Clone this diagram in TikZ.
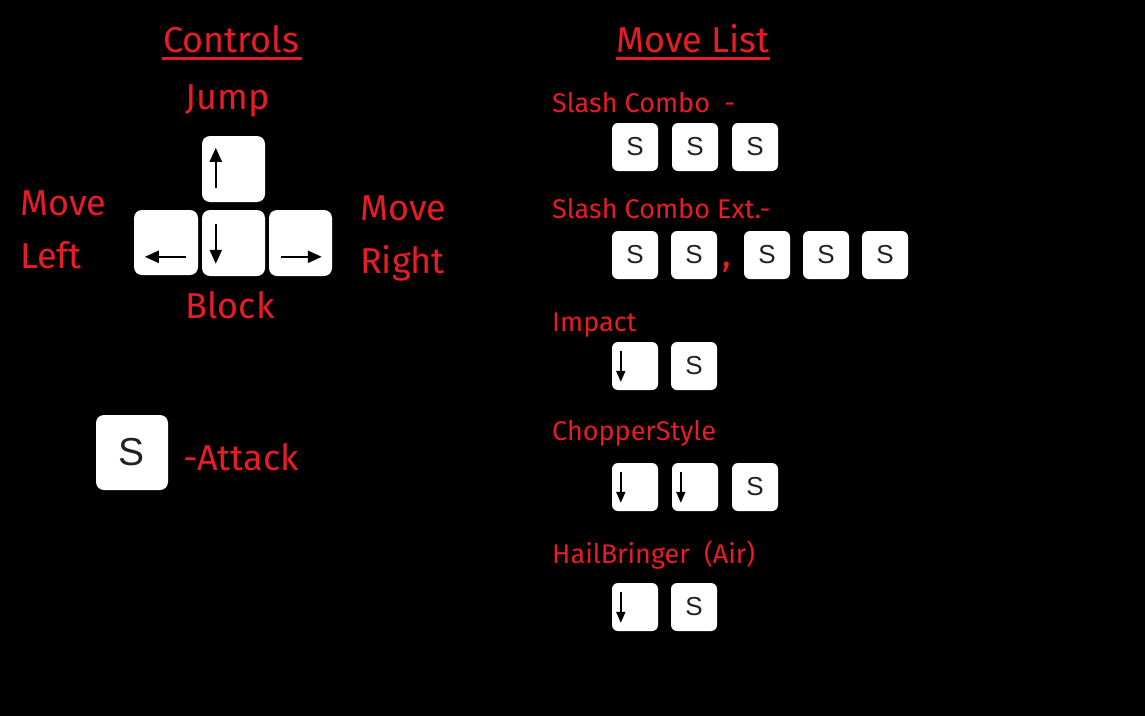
\documentclass[tikz,border=0pt]{standalone}
\usepackage{fontspec}
\setmainfont{Fira Sans}
\newfontfamily\keyfont{Liberation Sans}
\usetikzlibrary{arrows.meta,positioning}
\definecolor{hand}{RGB}{232,28,36}
\definecolor{keyink}{RGB}{34,34,34}
\tikzset{
  big/.style={text=hand,font=\fontsize{36}{40}\selectfont,inner sep=0pt},
  small/.style={text=hand,font=\fontsize{27}{30}\selectfont,inner sep=0pt,anchor=base west},
  bigkey/.style={fill=white,rounded corners=8pt,inner sep=0pt},
  keycap/.style={fill=white,rounded corners=6pt,inner sep=0pt,minimum width=46pt,minimum height=48pt,
    text=keyink,font=\keyfont\fontsize{26}{26}\selectfont},
  bigarrow/.style={line width=2.2pt,-{Triangle[length=14pt,width=12pt]}},
  smallarrow/.style={line width=1.8pt,-{Triangle[length=11pt,width=9pt]}}
}
\begin{document}
\begin{tikzpicture}[x=1pt,y=-1pt]
\useasboundingbox[fill=black] (0,0) rectangle (1145,716);

% controls
\node[big,anchor=base] (controls) at (231,52) {Controls};
\draw[hand,line width=3pt] (162,58) -- (302,58);
\node[big,anchor=base] (jump) at (228,109) {Jump};
\node[big,anchor=base west] (moveL) at (20,215) {Move};
\node[big,anchor=base west] (left) at (20,268) {Left};
\node[big,anchor=base west] (moveR) at (360,220) {Move};
\node[big,anchor=base west] (right) at (360,273) {Right};
\node[big,anchor=base] (block) at (230,318) {Block};

\node[bigkey,minimum width=63pt,minimum height=66pt] (kUp) at (233.5,169) {};
\node[bigkey,minimum width=64pt,minimum height=65pt] (kLeft) at (166,242.5) {};
\node[bigkey,minimum width=63pt,minimum height=66pt] (kDown) at (233.5,243) {};
\node[bigkey,minimum width=63pt,minimum height=66pt] (kRight) at (300.5,243) {};
\draw[bigarrow] ([shift={(14,52)}]kUp.north west) -- ([shift={(14,12)}]kUp.north west);
\draw[bigarrow] ([shift={(14,14)}]kDown.north west) -- ([shift={(14,54)}]kDown.north west);
\draw[bigarrow] ([shift={(52,47)}]kLeft.north west) -- ([shift={(11,47)}]kLeft.north west);
\draw[bigarrow] ([shift={(12,47)}]kRight.north west) -- ([shift={(53,47)}]kRight.north west);

\node[bigkey,minimum width=72pt,minimum height=75pt,text=keyink,font=\keyfont\fontsize{39}{39}\selectfont] (kAttack) at (132,452.5) {S};
\node[big,anchor=base west] (attack) at (183,470) {-Attack};

% move list
\node[big,anchor=base] (movelist) at (693,52) {Move List};
\draw[hand,line width=3pt] (616,58) -- (770,58);

\node[small] (slash) at (552,112) {Slash Combo\ \ -};
\node[keycap] (s1) at (635,147) {S};
\node[keycap] (s2) at (695,147) {S};
\node[keycap] (s3) at (755,147) {S};

\node[small] (slashext) at (552,218) {Slash Combo Ext.-};
\node[keycap] (e1) at (635,255) {S};
\node[keycap] (e2) at (694,255) {S};
\node[small,anchor=base,font=\fontsize{36}{40}\selectfont] (comma) at (727,266) {,};
\node[keycap] (e3) at (767,255) {S};
\node[keycap] (e4) at (826,255) {S};
\node[keycap] (e5) at (885,255) {S};

\node[small] (impact) at (552,331) {Impact};
\node[keycap] (i1) at (635,366) {};
\node[keycap] (i2) at (694,366) {S};

\node[small] (chopper) at (552,440) {ChopperStyle};
\node[keycap] (c1) at (635,487) {};
\node[keycap] (c2) at (695,487) {};
\node[keycap] (c3) at (755,487) {S};

\node[small] (hail) at (552,563) {HailBringer\ \ (Air)};
\node[keycap] (h1) at (635,607) {};
\node[keycap] (h2) at (694,607) {S};

\foreach \k in {i1,c1,c2,h1}
  \draw[smallarrow] ([shift={(9,9)}]\k.north west) -- ([shift={(9,40)}]\k.north west);
\end{tikzpicture}
\end{document}
